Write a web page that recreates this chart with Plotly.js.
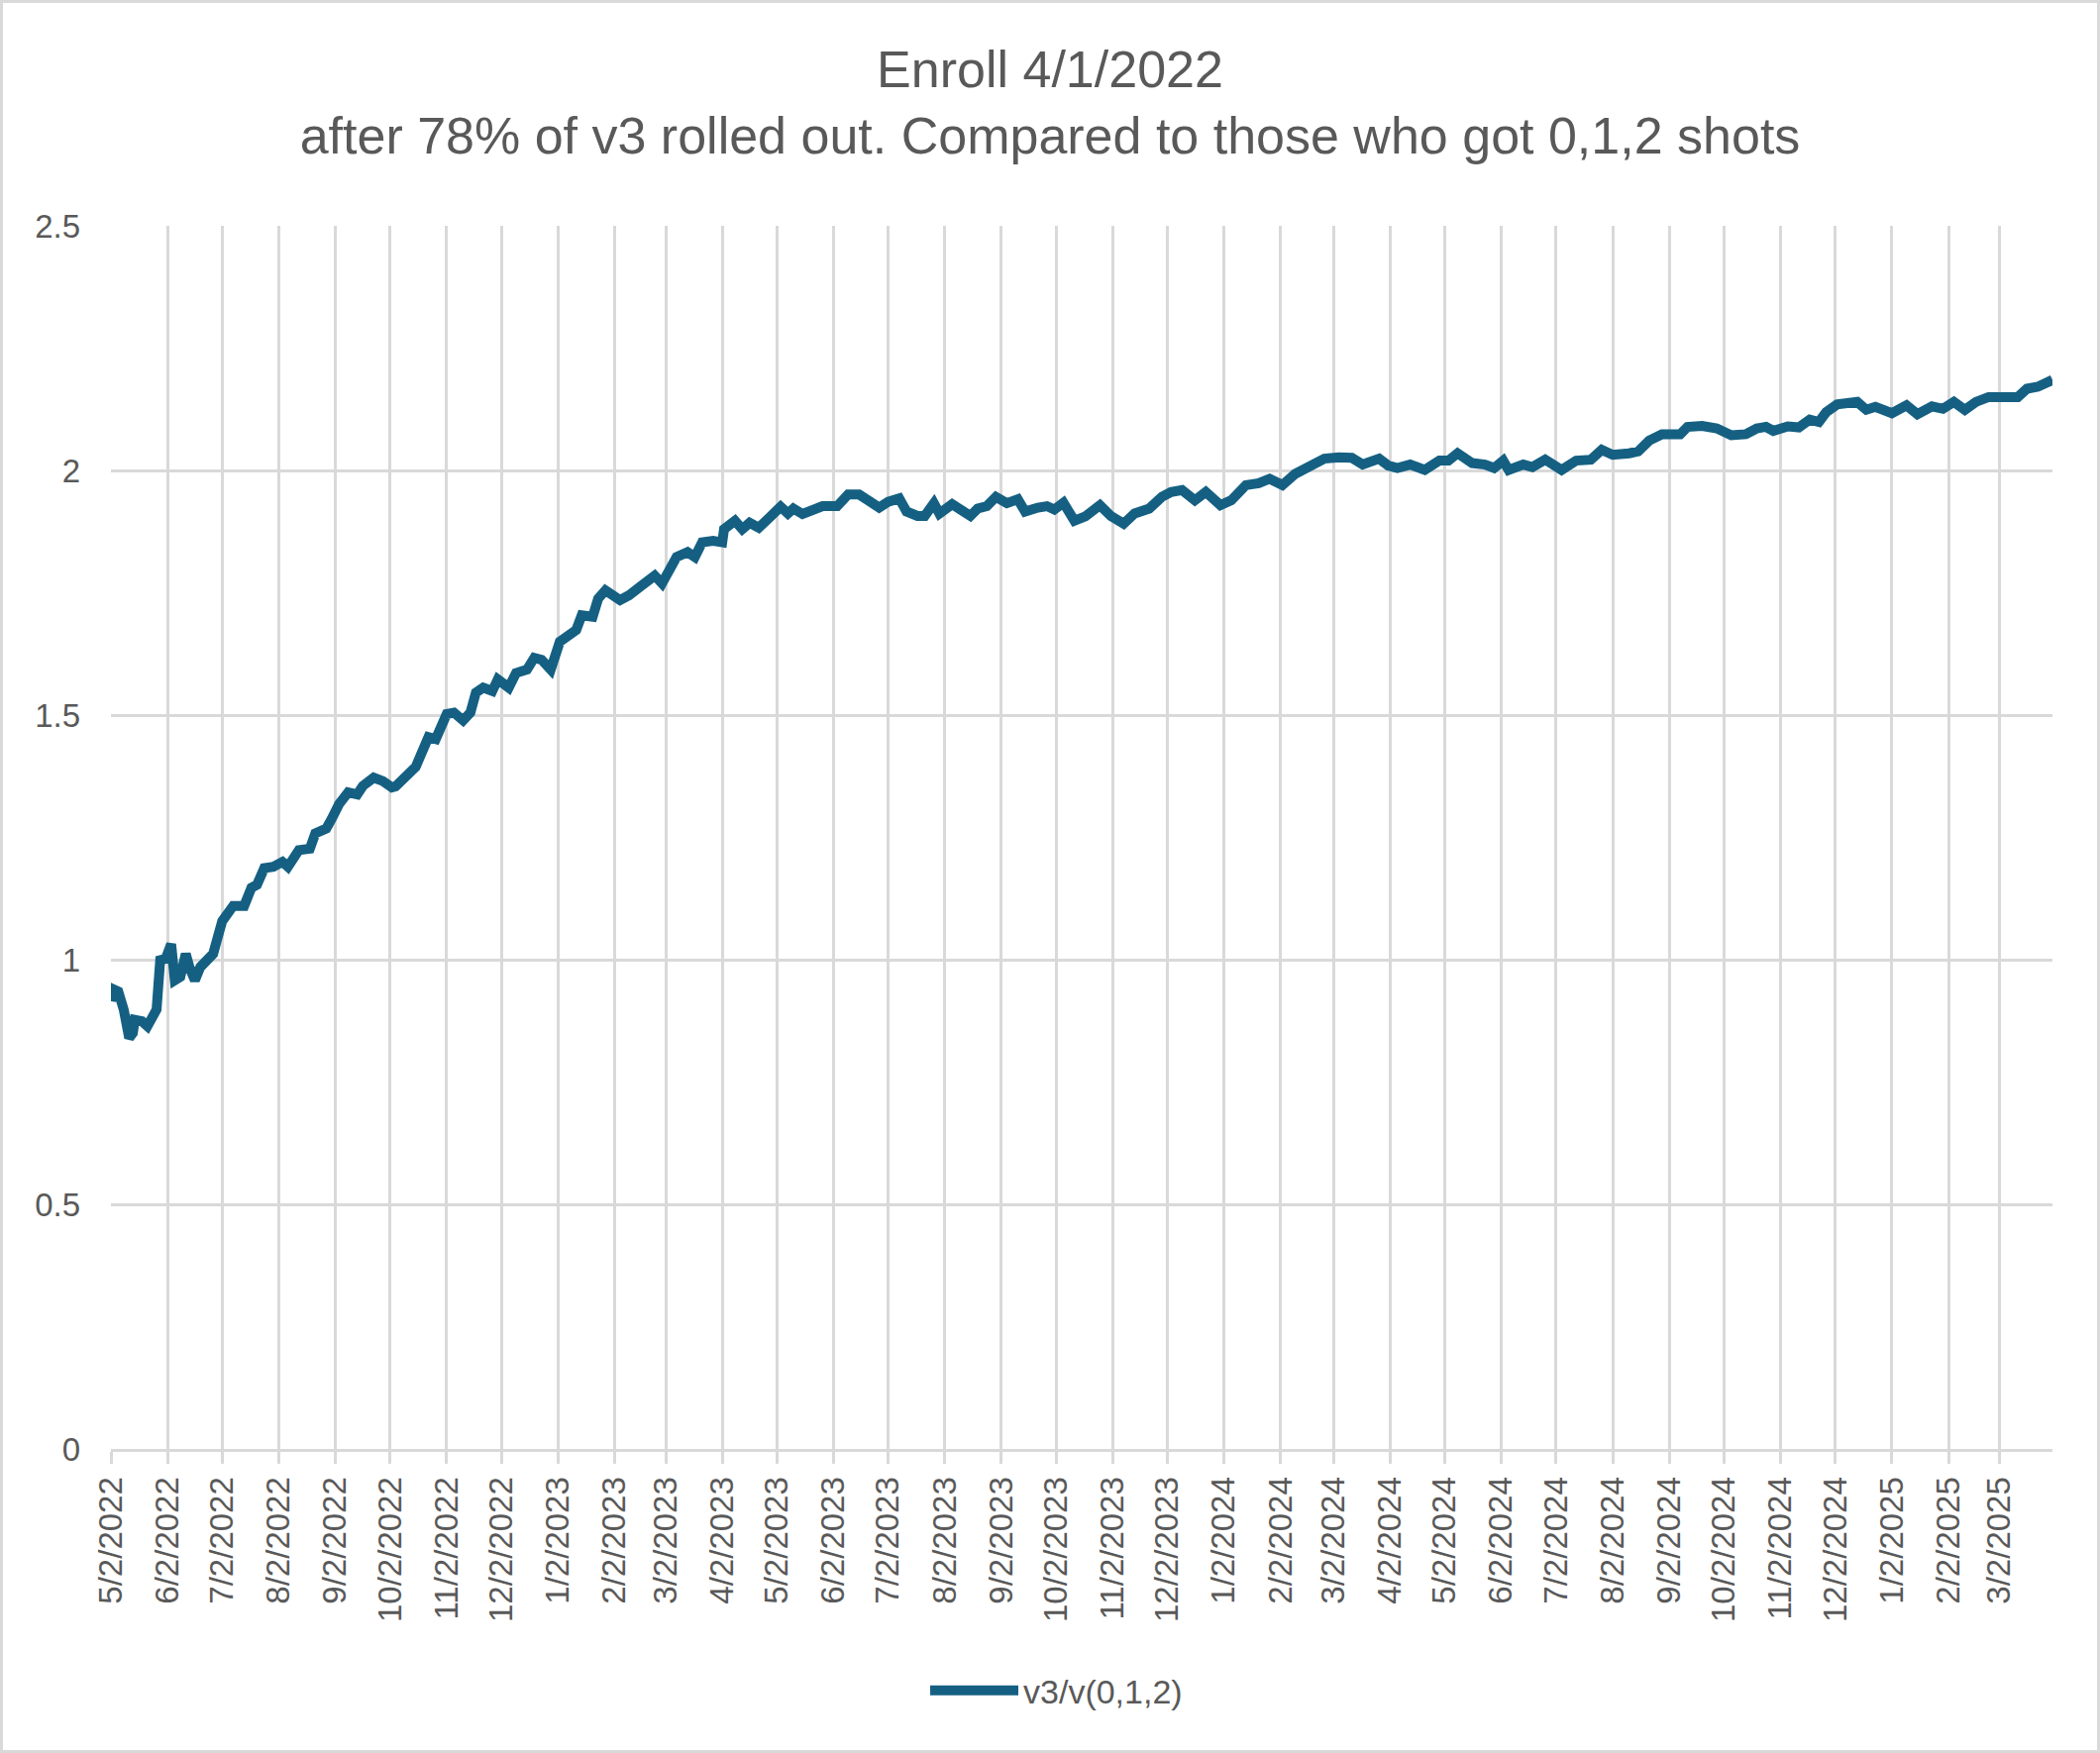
<!DOCTYPE html>
<html>
<head>
<meta charset="utf-8">
<script src="https://cdn.plot.ly/plotly-3.0.1.min.js"></script>
<style>
  html, body { margin: 0; padding: 0; background: #ffffff; }
  #chart { width: 2114px; height: 1764px; border: 3px solid #d9d9d9; background: #ffffff; }
</style>
</head>
<body>
<div id="chart"></div>
<script>
// ---- data ----
const startDate = '2022-05-02';
const dayOffsets = [
  0, 1, 4, 7, 10, 12, 13, 17, 20, 22, 25, 27, 30, 33, 35, 38, 41, 43, 46, 49,
  52, 56, 58, 61, 67, 73, 77, 80, 84, 89, 94, 97, 103, 109, 112, 118, 121, 125, 130, 135,
  138, 144, 149, 154, 156, 164, 167, 174, 178, 184, 188, 193, 197, 200, 204, 209, 212, 218, 222, 228,
  232, 236, 241, 246, 251, 255, 258, 264, 267, 271, 279, 284, 291, 298, 302, 305, 310, 316, 320, 324,
  330, 335, 336, 342, 346, 350, 355, 361, 367, 371, 374, 379, 385, 390, 398, 404, 410, 415, 421, 426,
  432, 436, 442, 446, 451, 454, 461, 466, 471, 475, 480, 485, 491, 497, 501, 508, 513, 517, 522, 528,
  534, 542, 548, 555, 561, 569, 576, 581, 587, 594, 600, 608, 614, 622, 629, 635, 642, 649, 657, 665,
  673, 680, 686, 695, 700, 705, 712, 720, 728, 733, 738, 746, 753, 758, 763, 766, 774, 779, 786, 795,
  803, 811, 817, 823, 832, 837, 843, 850, 860, 864, 872, 880, 888, 896, 902, 907, 911, 919, 925, 931,
  936, 940, 946, 951, 957, 962, 967, 976, 984, 990, 998, 1004, 1010, 1016, 1022, 1029, 1036, 1045, 1050, 1056,
  1064
];
const ratioV3 = [
  0.915, 0.94, 0.935, 0.898, 0.84, 0.85, 0.877, 0.874, 0.864, 0.877, 0.898, 0.999, 1.002, 1.032, 0.958, 0.965, 1.012, 0.985, 0.958, 0.985,
  0.999, 1.012, 1.039, 1.079, 1.11, 1.11, 1.147, 1.153, 1.187, 1.19, 1.2, 1.19, 1.224, 1.227, 1.258, 1.268, 1.288, 1.318, 1.342, 1.338,
  1.355, 1.372, 1.365, 1.352, 1.354, 1.384, 1.394, 1.455, 1.451, 1.502, 1.505, 1.489, 1.505, 1.546, 1.556, 1.549, 1.573, 1.556, 1.586, 1.593,
  1.617, 1.613, 1.593, 1.65, 1.661, 1.674, 1.704, 1.701, 1.738, 1.755, 1.735, 1.745, 1.765, 1.785, 1.769, 1.792, 1.823, 1.833, 1.823, 1.853,
  1.856, 1.853, 1.88, 1.897, 1.88, 1.893, 1.883, 1.904, 1.926, 1.912, 1.922, 1.911, 1.919, 1.927, 1.927, 1.951, 1.951, 1.939, 1.924, 1.936,
  1.943, 1.916, 1.907, 1.907, 1.933, 1.912, 1.931, 1.919, 1.907, 1.922, 1.927, 1.946, 1.933, 1.941, 1.916, 1.924, 1.927, 1.92, 1.934, 1.897,
  1.906, 1.929, 1.907, 1.891, 1.912, 1.922, 1.946, 1.956, 1.96, 1.939, 1.956, 1.929, 1.939, 1.97, 1.974, 1.983, 1.97, 1.993, 2.008, 2.024,
  2.027, 2.026, 2.012, 2.024, 2.01, 2.005, 2.012, 2.001, 2.02, 2.02, 2.035, 2.015, 2.012, 2.005, 2.02, 2.001, 2.012, 2.007, 2.022, 2.001,
  2.02, 2.022, 2.042, 2.032, 2.035, 2.039, 2.061, 2.074, 2.074, 2.089, 2.091, 2.086, 2.072, 2.074, 2.086, 2.089, 2.081, 2.09, 2.088, 2.104,
  2.099, 2.119, 2.135, 2.138, 2.14, 2.124, 2.13, 2.117, 2.133, 2.115, 2.131, 2.126, 2.14, 2.124, 2.14, 2.15, 2.151, 2.15, 2.167, 2.171,
  2.185
];
const seriesName = 'v3/v(0,1,2)';
const titleLine1 = 'Enroll 4/1/2022';
const titleLine2 = 'after 78% of v3 rolled out. Compared to those who got 0,1,2 shots';
const axisStart = '2022-05-02';
const axisEnd = '2025-03-31';

// ---- build dates ----
const base = Date.parse(startDate + 'T00:00:00Z');
const dates = dayOffsets.map(d => new Date(base + d * 86400000).toISOString().slice(0, 10));

const grey = '#d9d9d9';
const textGrey = '#595959';
const tickFont = { family: 'Liberation Sans, Arial, sans-serif', size: 33, color: textGrey };

const trace = {
  type: 'scatter',
  mode: 'lines',
  x: dates,
  y: ratioV3,
  name: seriesName,
  line: { color: '#156082', width: 10 },
  showlegend: true
};

const layout = {
  width: 2114,
  height: 1764,
  paper_bgcolor: '#ffffff',
  plot_bgcolor: '#ffffff',
  margin: { l: 109, r: 45, t: 225, b: 304, pad: 0 },
  title: {
    text: titleLine1 + '<br>' + titleLine2,
    font: { family: 'Liberation Sans, Arial, sans-serif', size: 52, color: textGrey },
    x: 0.5, xanchor: 'center', xref: 'container',
    y: 0.952, yanchor: 'top', yref: 'container'
  },
  xaxis: {
    type: 'date',
    range: [axisStart, axisEnd],
    tick0: axisStart,
    dtick: 'M1',
    tickformat: '%-m/%-d/%Y',
    tickangle: -90,
    tickfont: tickFont,
    showgrid: true,
    gridcolor: grey,
    gridwidth: 3,
    showline: true,
    linecolor: grey,
    linewidth: 3,
    ticks: 'outside',
    ticklen: 12,
    tickwidth: 3,
    tickcolor: grey,
    zeroline: false,
    fixedrange: true
  },
  yaxis: {
    range: [0, 2.5],
    tick0: 0,
    dtick: 0.5,
    tickfont: tickFont,
    showgrid: true,
    gridcolor: grey,
    gridwidth: 3,
    zeroline: false,
    showline: false,
    ticks: '',
    ticklabelstandoff: 30,
    fixedrange: true
  },
  showlegend: true,
  legend: {
    orientation: 'h',
    x: 0.487, xanchor: 'center',
    y: -0.1976, yanchor: 'middle',
    font: { family: 'Liberation Sans, Arial, sans-serif', size: 34, color: textGrey },
    itemwidth: 89,
    bgcolor: 'rgba(0,0,0,0)'
  }
};

Plotly.newPlot('chart', [trace], layout, { displayModeBar: false, staticPlot: true });
</script>
</body>
</html>
